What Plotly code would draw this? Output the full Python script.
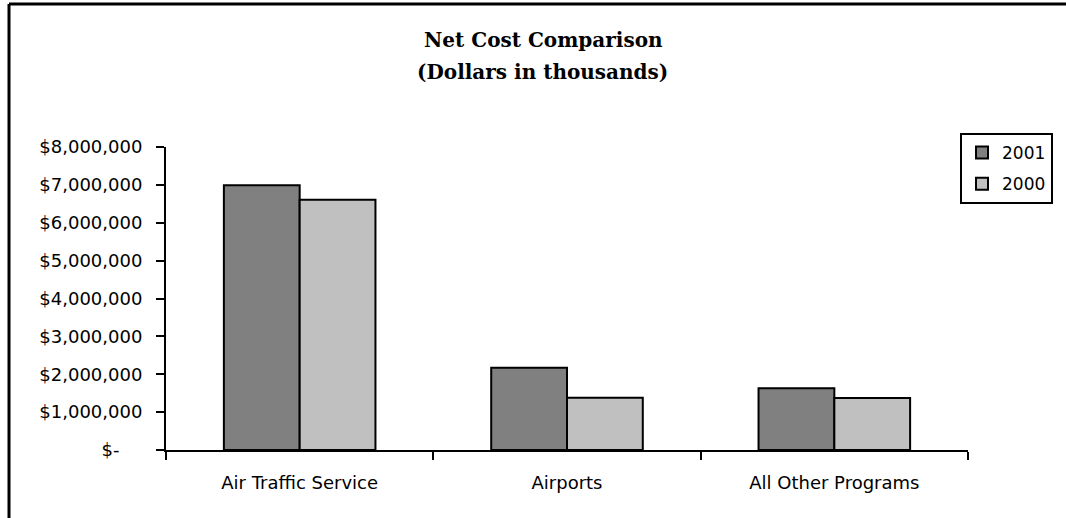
import plotly.graph_objects as go

categories = ["Air Traffic Service", "Airports", "All Other Programs"]
series_names = ["2001", "2000"]
values_2001 = [6990000, 2170000, 1630000]
values_2000 = [6610000, 1380000, 1375000]
tick_vals = [0, 1000000, 2000000, 3000000, 4000000, 5000000, 6000000, 7000000, 8000000]
tick_text = ["$-\u00a0\u00a0\u00a0\u00a0", "$1,000,000", "$2,000,000", "$3,000,000", "$4,000,000",
             "$5,000,000", "$6,000,000", "$7,000,000", "$8,000,000"]
title_lines = ["Net Cost Comparison", "(Dollars in thousands)"]

colors = ["#808080", "#C0C0C0"]

fig = go.Figure()
for name, vals, col in zip(series_names, [values_2001, values_2000], colors):
    fig.add_trace(go.Bar(x=categories, y=vals, name=name, legendgroup=name,
                         marker=dict(color=col, line=dict(color="black", width=2))))

W, H = 1066, 518
ml, mr, mt, mb = 166, 98, 147, 68
pw, ph = W - ml - mr, H - mt - mb

def px_x(p):
    return (p - ml) / pw

def px_y(p):
    return (H - mb - p) / ph

sans = "DejaVu Sans, Liberation Sans, Arial, sans-serif"
serif = "DejaVu Serif, Liberation Serif, Times New Roman, serif"

fig.update_layout(
    width=W, height=H,
    margin=dict(l=ml, r=mr, t=mt, b=mb, pad=0),
    paper_bgcolor="white", plot_bgcolor="white",
    barmode="group", bargap=0.433, bargroupgap=0,
    font=dict(family=sans, size=18, color="black"),
    showlegend=True,
    legend=dict(x=px_x(960), y=px_y(133), xanchor="left", yanchor="top",
                bordercolor="black", borderwidth=2, bgcolor="white",
                font=dict(size=17), traceorder="grouped", tracegroupgap=6, itemwidth=30),
    xaxis=dict(showline=True, linecolor="black", linewidth=2, ticks="outside",
               tickson="boundaries", ticklen=8, tickwidth=2, tickcolor="black",
               showgrid=False, ticklabelstandoff=15, fixedrange=True),
    yaxis=dict(range=[0, 8000000], showline=True, linecolor="black", linewidth=2,
               ticks="outside", ticklen=8, tickwidth=2, tickcolor="black",
               tickvals=tick_vals, ticktext=tick_text, showgrid=False, zeroline=False,
               ticklabelstandoff=10, fixedrange=True),
    shapes=[
        dict(type="line", xref="paper", yref="paper",
             x0=px_x(9), x1=px_x(1070), y0=px_y(4), y1=px_y(4),
             line=dict(color="black", width=3)),
        dict(type="line", xref="paper", yref="paper",
             x0=px_x(9), x1=px_x(9), y0=px_y(4), y1=px_y(525),
             line=dict(color="black", width=3)),
    ],
    annotations=[
        dict(text="<b>%s</b>" % title_lines[0], xref="paper", yref="paper",
             x=px_x(543), y=px_y(40), showarrow=False, xanchor="center", yanchor="middle",
             font=dict(family=serif, size=20)),
        dict(text="<b>%s</b>" % title_lines[1], xref="paper", yref="paper",
             x=px_x(542), y=px_y(72), showarrow=False, xanchor="center", yanchor="middle",
             font=dict(family=serif, size=20)),
    ],
)

fig.write_html("out.html")
